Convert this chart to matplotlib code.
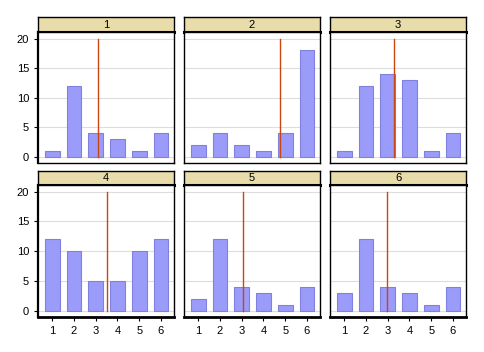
import matplotlib.pyplot as plt

plt.rcParams['font.family'] = ['Liberation Sans', 'DejaVu Sans']

# data
panels = ['1', '2', '3', '4', '5', '6']
cats = [1, 2, 3, 4, 5, 6]
counts = [
    [1, 12, 4, 3, 1, 4],
    [2, 4, 2, 1, 4, 18],
    [1, 12, 14, 13, 1, 4],
    [12, 10, 5, 5, 10, 12],
    [2, 12, 4, 3, 1, 4],
    [3, 12, 4, 3, 1, 4],
]
ref_lines = [3.13, 4.78, 3.29, 3.5, 3.06, 2.97]

W, H = 484, 352
fig = plt.figure(figsize=(W / 100, H / 100), dpi=100)

col_left = [38, 184, 330]
ax_w = 136
rows = [(17, 32, 163), (171, 185, 317)]  # strip top, axes top, axes bottom

for i, name in enumerate(panels):
    r, c = divmod(i, 3)
    st, at, ab = rows[r]
    x0 = col_left[c]

    # strip header
    sax = fig.add_axes([x0 / W, 1 - at / H, ax_w / W, (at - st) / H])
    sax.set_facecolor('#e8dcaa')
    sax.set_xticks([])
    sax.set_yticks([])
    for s in sax.spines.values():
        s.set_linewidth(1.0)
    sax.spines['bottom'].set_linewidth(2.2)
    sax.text(0.5, 0.5, name, ha='center', va='center', fontsize=8,
             transform=sax.transAxes)

    ax = fig.add_axes([x0 / W, 1 - ab / H, ax_w / W, (ab - at) / H])
    ax.bar(cats, counts[i], width=0.68, color='#9b9bfa', edgecolor='#8080dd',
           linewidth=0.8, zorder=2)
    ax.plot([ref_lines[i], ref_lines[i]], [0, 20], color='#cc4411',
            linewidth=1.0, zorder=3)
    ax.set_xlim(0.35, 6.6)
    ax.set_ylim(-1.0, 21.1)
    ax.set_yticks([0, 5, 10, 15, 20])
    ax.set_xticks(cats)
    ax.grid(axis='y', color='#dddddd', linewidth=0.8, zorder=0)
    ax.tick_params(labelsize=8, length=3, width=0.8, color='black')
    for s in ax.spines.values():
        s.set_linewidth(1.0)
    if c == 0:
        ax.spines['left'].set_linewidth(1.6)
    else:
        ax.tick_params(axis='y', left=False, labelleft=False)
    if r == 1:
        ax.spines['bottom'].set_linewidth(2.0)
    else:
        ax.tick_params(axis='x', bottom=False, labelbottom=False)

fig.savefig('out.png', dpi=100)
